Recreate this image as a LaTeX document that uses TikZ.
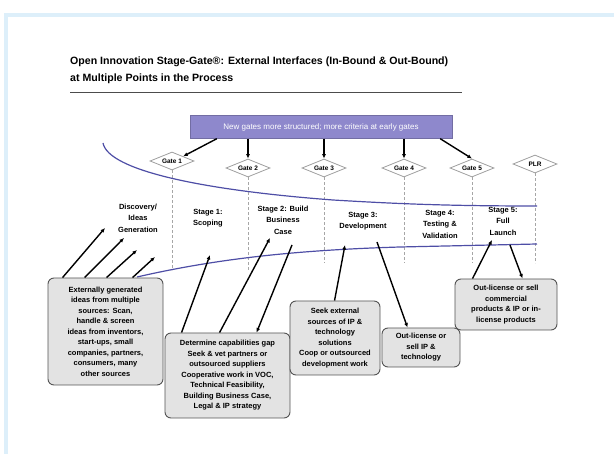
\documentclass[tikz,border=0pt]{standalone}
\usepackage{fontspec}
\setmainfont{Liberation Sans}
\usetikzlibrary{shapes.geometric,arrows.meta}
\definecolor{framebl}{HTML}{DDEFFA}
\definecolor{bannerpurp}{HTML}{8E88CC}
\definecolor{curveblue}{HTML}{4E4EA6}
\definecolor{boxgray}{HTML}{E3E3E3}
\tikzset{
	gate/.style={diamond, draw=gray!75, line width=0.8pt, fill=white, aspect=2.4, inner sep=0.5pt,
		minimum width=44pt, minimum height=18pt, font=\fontsize{6.5}{7}\selectfont\bfseries},
	gateline/.style={gray!70, line width=0.6pt, densely dashed},
	stage/.style={align=center, inner sep=0pt, font=\fontsize{7.5}{11.5}\selectfont\bfseries},
	obox/.style={draw=gray!65!black, line width=0.9pt, fill=boxgray, rounded corners=6pt,
		align=center, inner sep=2pt, font=\fontsize{7.5}{10.5}\selectfont\bfseries},
	arr/.style={-{Latex[length=4.5pt,width=4pt]}, line width=1.4pt},
	curve/.style={curveblue, line width=1.2pt}
}
\begin{document}
\begin{tikzpicture}[x=1pt, y=-1pt]
	\useasboundingbox (0,0) rectangle (614,454);
	\draw[framebl, line width=4pt] (6,454) -- (6,15) -- (614,15);

	\node[anchor=north west, align=left, inner sep=0pt, font=\fontsize{10.6}{17}\selectfont\bfseries] (title) at (70,57)
		{Open Innovation Stage-Gate®: External Interfaces (In-Bound \& Out-Bound)\\at Multiple Points in the Process};
	\coordinate (r1) at (70,92);
	\coordinate (r2) at (462,92);
	\draw[gray!60!black, line width=0.7pt] (r1) -- (r2);

	\node[draw=bannerpurp!80!black, fill=bannerpurp, minimum width=262pt, minimum height=23pt, text=white,
		font=\fontsize{8}{9}\selectfont] (ban) at (321,127) {New gates more structured; more criteria at early gates};

	\node[gate] (g1) at (172,161) {Gate 1};
	\node[gate] (g2) at (248,168) {Gate 2};
	\node[gate] (g3) at (324,168) {Gate 3};
	\node[gate] (g4) at (404,168) {Gate 4};
	\node[gate] (g5) at (472,168) {Gate 5};
	\node[gate] (plr) at (535,164) {PLR};

	\draw[gateline] (g1.south) -- ++(0,100);
	\draw[gateline] (g2.south) -- ++(0,93);
	\draw[gateline] (g3.south) -- ++(0,86);
	\draw[gateline] (g4.south) -- ++(0,86);
	\draw[gateline] (g5.south) -- ++(0,86);
	\draw[gateline] (plr.south) -- ++(0,90);

	\path [arr] ([xshift=27pt]ban.south west) edge (g1.north east);
	\path [arr] (ban.south -| g2.north) edge (g2.north);
	\path [arr] (ban.south -| g3.north) edge (g3.north);
	\path [arr] (ban.south -| g4.north) edge (g4.north);
	\path [arr] ([xshift=-12pt]ban.south east) edge (g5.north);

	\draw[curve] (103,143) .. controls (108,170) and (200,190) .. (333,200) .. controls (400,204) and (450,206) .. (537,206);
	\draw[curve] (137,277) .. controls (220,258) and (300,250) .. (400,247) -- (537,244);

	\node[stage] (disc) at (138,218) {Discovery/\\Ideas\\Generation};
	\node[stage] (st1) at (208,218) {Stage 1:\\Scoping};
	\node[stage] (st2) at (283,220) {Stage 2: Build\\Business\\Case};
	\node[stage] (st3) at (363,221) {Stage 3:\\Development};
	\node[stage] (st4) at (440,224) {Stage 4:\\Testing \&\\Validation};
	\node[stage] (st5) at (503,221) {Stage 5:\\Full\\Launch};

	\node[obox, minimum width=115pt, minimum height=107pt] (ext) at (105.5,331.5)
		{Externally generated\\ideas from multiple\\sources: Scan,\\handle \& screen\\ideas from inventors,\\start-ups, small\\companies, partners,\\consumers, many\\other sources};
	\node[obox, minimum width=125pt, minimum height=85pt] (cap) at (227.5,375.5)
		{Determine capabilities gap\\Seek \& vet partners or\\outsourced suppliers\\Cooperative work in VOC,\\Technical Feasibility,\\Building Business Case,\\Legal \& IP strategy};
	\node[obox, minimum width=90pt, minimum height=74pt] (seek) at (335,338)
		{Seek external\\sources of IP \&\\technology\\solutions\\Coop or outsourced\\development work};
	\node[obox, minimum width=78pt, minimum height=39pt] (outip) at (421,347.5)
		{Out-license or\\sell IP \&\\technology};
	\node[obox, minimum width=102pt, minimum height=51pt] (outprod) at (506,304.5)
		{Out-license or sell\\commercial\\products \& IP or in-\\license products};

	\coordinate (d1) at (105,228);
	\coordinate (d2) at (124,238);
	\coordinate (d3) at (137,250);
	\coordinate (d4) at (155,257);
	\coordinate (s1) at (210,255);
	\coordinate (s2) at (270,238);
	\coordinate (s2o) at (292,245);
	\coordinate (s3) at (345,245);
	\coordinate (s3o) at (377,242);
	\coordinate (s5) at (492,240);
	\coordinate (s5o) at (510,245);

	\path [arr] ([xshift=15pt]ext.north west) edge (d1);
	\path [arr] ([xshift=37pt]ext.north west) edge (d2);
	\path [arr] ([xshift=59pt]ext.north west) edge (d3);
	\path [arr] ([xshift=85pt]ext.north west) edge (d4);
	\path [arr] ([xshift=17pt]cap.north west) edge (s1);
	\path [arr] ([xshift=55pt]cap.north west) edge (s2);
	\path [arr] (s2o) edge ([xshift=92pt]cap.north west);
	\path [arr] ([xshift=45pt]seek.north west) edge (s3);
	\path [arr] (s3o) edge ([xshift=26pt]outip.north west);
	\path [arr] ([xshift=18pt]outprod.north west) edge (s5);
	\path [arr] (s5o) edge ([xshift=68pt]outprod.north west);
\end{tikzpicture}
\end{document}
